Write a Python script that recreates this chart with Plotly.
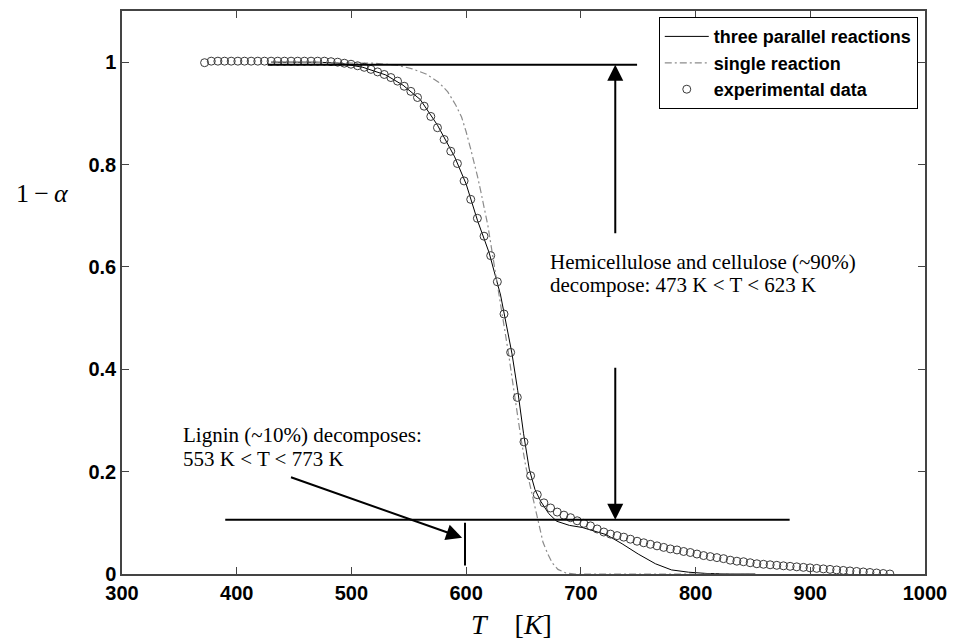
import plotly.graph_objects as go

# ---------------- data ----------------
T_exp = [372.0, 377.8, 383.6, 389.4, 395.2, 401.0, 406.8, 412.6, 418.4, 424.2,
         430.0, 435.8, 441.6, 447.4, 453.2, 459.0, 464.8, 470.6, 476.4, 482.2,
         488.0, 493.8, 499.6, 505.4, 511.2, 517.0, 522.8, 528.6, 534.4, 540.2,
         546.0, 551.8, 557.6, 563.4, 569.2, 575.0, 580.8, 586.6, 592.4, 598.2,
         604.0, 609.8, 615.6, 621.4, 627.2, 633.0, 638.8, 644.6, 650.4, 656.2,
         662.0, 667.8, 673.6, 679.4, 685.2, 691.0, 696.8, 702.6, 708.4, 714.2,
         720.0, 725.8, 731.6, 737.4, 743.2, 749.0, 754.8, 760.6, 766.4, 772.2,
         778.0, 783.8, 789.6, 795.4, 801.2, 807.0, 812.8, 818.6, 824.4, 830.2,
         836.0, 841.8, 847.6, 853.4, 859.2, 865.0, 870.8, 876.6, 882.4, 888.2,
         894.0, 899.8, 905.6, 911.4, 917.2, 923.0, 928.8, 934.6, 940.4, 946.2,
         952.0, 957.8, 963.6, 969.4]
v_exp = [0.999, 1.002, 1.002, 1.002, 1.002, 1.002, 1.002, 1.002, 1.002, 1.002,
         1.002, 1.002, 1.002, 1.002, 1.002, 1.002, 1.002, 1.002, 1.002, 1.001,
         1.000, 0.998, 0.996, 0.993, 0.990, 0.986, 0.981, 0.976, 0.970, 0.963,
         0.953, 0.943, 0.931, 0.914, 0.894, 0.872, 0.849, 0.826, 0.802, 0.768,
         0.732, 0.695, 0.660, 0.622, 0.571, 0.508, 0.433, 0.345, 0.258, 0.192,
         0.155, 0.139, 0.129, 0.121, 0.115, 0.110, 0.104, 0.099, 0.094, 0.088,
         0.082, 0.078, 0.075, 0.072, 0.068, 0.064, 0.061, 0.058, 0.055, 0.052,
         0.049, 0.047, 0.044, 0.042, 0.039, 0.036, 0.034, 0.032, 0.030, 0.027,
         0.025, 0.024, 0.022, 0.020, 0.019, 0.018, 0.017, 0.016, 0.015, 0.014,
         0.013, 0.012, 0.011, 0.010, 0.009, 0.008, 0.007, 0.006, 0.005, 0.004,
         0.003, 0.002, 0.001, 0.000]

T_three = [430, 470, 490, 510, 530, 545, 560, 575, 590, 600, 610, 620, 630, 640,
           645, 650, 655, 660, 665, 672, 679, 690, 701, 715, 722, 736, 750, 765,
           779, 794, 810, 830, 852]
v_three = [1.0, 1.0, 0.998, 0.990, 0.975, 0.955, 0.927, 0.877, 0.815, 0.762,
           0.690, 0.628, 0.545, 0.430, 0.358, 0.275, 0.205, 0.165, 0.142, 0.118,
           0.103, 0.095, 0.091, 0.082, 0.077, 0.059, 0.039, 0.020, 0.008, 0.0035,
           0.001, 0.0, 0.0]

T_single = [430, 500, 520, 540, 553, 565, 576, 584, 591, 596, 600, 604, 607, 610,
            613, 616, 619, 623, 626, 629, 633, 637, 641, 645, 648, 652, 655, 658,
            661, 664, 667, 671, 675, 680, 687, 695, 710, 852]
v_single = [1.0, 0.999, 0.998, 0.994, 0.987, 0.977, 0.961, 0.942, 0.916, 0.893,
            0.864, 0.830, 0.805, 0.776, 0.745, 0.712, 0.680, 0.624, 0.582, 0.546,
            0.490, 0.430, 0.368, 0.305, 0.262, 0.210, 0.180, 0.146, 0.117, 0.089,
            0.062, 0.040, 0.022, 0.009, 0.002, 0.0, 0.0, 0.0]

series_names = ["three parallel reactions", "single reaction", "experimental data"]
x_ticks = [300, 400, 500, 600, 700, 800, 900, 1000]
y_ticks = [0, 0.2, 0.4, 0.6, 0.8, 1]

# annotation geometry (data units)
upper_level = [427, 749, 0.995]      # x0, x1, y
lower_level = [390, 882, 0.106]
lignin_mark = [599, 0.0165, 0.100]   # x, y0, y1
arrow_x = 730

serif = "Liberation Serif, Times New Roman, serif"
sans = "Liberation Sans, Arial, sans-serif"

fig = go.Figure()
fig.add_trace(go.Scatter(x=T_three, y=v_three, mode="lines", name=series_names[0],
                         line=dict(color="black", width=1)))
fig.add_trace(go.Scatter(x=T_single, y=v_single, mode="lines", name=series_names[1],
                         line=dict(color="#8c8c8c", width=1.2, dash="7px,3px,2px,3px")))
fig.add_trace(go.Scatter(x=T_exp, y=v_exp, mode="markers", name=series_names[2],
                         marker=dict(symbol="circle-open", size=8,
                                     color="#3a3a3a", line=dict(width=1, color="#3a3a3a"))))

line_style = dict(color="black", width=2)
fig.add_shape(type="line", xref="x", yref="y", x0=upper_level[0], x1=upper_level[1],
              y0=upper_level[2], y1=upper_level[2], line=line_style)
fig.add_shape(type="line", xref="x", yref="y", x0=lower_level[0], x1=lower_level[1],
              y0=lower_level[2], y1=lower_level[2], line=line_style)
fig.add_shape(type="line", xref="x", yref="y", x0=lignin_mark[0], x1=lignin_mark[0],
              y0=lignin_mark[1], y1=lignin_mark[2], line=line_style)

arrow_common = dict(xref="x", yref="y", axref="x", ayref="y", showarrow=True,
                    arrowhead=2, arrowsize=1.6, arrowwidth=2, arrowcolor="black",
                    standoff=0, startstandoff=0, text="")
fig.add_annotation(x=arrow_x, y=upper_level[2], ax=arrow_x, ay=0.663, **arrow_common)
fig.add_annotation(x=arrow_x, y=lower_level[2], ax=arrow_x, ay=0.406, **arrow_common)
fig.add_annotation(x=596.5, y=0.071, ax=446, ay=0.19, **arrow_common)

txt_font = dict(family=serif, size=21, color="black")
for txt, yy in [("Hemicellulose and cellulose (~90%)", 0.6105),
                ("decompose: 473 K < T < 623 K", 0.5638)]:
    fig.add_annotation(x=671.3, y=yy, xref="x", yref="y", text=txt, showarrow=False,
                       xanchor="left", yanchor="middle", font=txt_font)
for txt, yy in [("Lignin (~10%) decomposes:", 0.2717),
                ("553 K < T < 773 K", 0.2249)]:
    fig.add_annotation(x=351.3, y=yy, xref="x", yref="y", text=txt, showarrow=False,
                       xanchor="left", yanchor="middle", font=txt_font)

# axis titles
fig.add_annotation(x=639.1, y=-0.0895, xref="x", yref="paper",
                   text="<i>T</i>\u00a0\u00a0\u00a0\u00a0[<i>K</i>]", showarrow=False,
                   xanchor="center", yanchor="middle",
                   font=dict(family=serif, size=28, color="black"))
fig.add_annotation(x=-0.099, y=0.676, xref="paper", yref="paper",
                   text="1\u2009\u2212\u2009<i>α</i>", showarrow=False,
                   xanchor="center", yanchor="middle",
                   font=dict(family=serif, size=26, color="black"))

axis_common = dict(showgrid=False, zeroline=False, showline=True, linecolor="#444",
                   linewidth=1.5, mirror="ticks", ticks="inside", ticklen=7,
                   tickcolor="#444", tickwidth=1,
                   tickfont=dict(family=sans, size=20, color="black", weight="bold"))
fig.update_xaxes(range=[300, 1000], tickvals=x_ticks, ticktext=[str(v) for v in x_ticks],
                 **axis_common)
fig.update_yaxes(range=[0, 1.1], tickvals=y_ticks,
                 ticktext=["0", "0.2", "0.4", "0.6", "0.8", "1"], **axis_common)

fig.update_layout(
    width=956, height=640,
    margin=dict(l=122, r=27, t=9, b=66),
    paper_bgcolor="white", plot_bgcolor="white",
    showlegend=True,
    legend=dict(x=0.991, y=0.989, xanchor="right", yanchor="top",
                bgcolor="white", bordercolor="black", borderwidth=1,
                font=dict(family=sans, size=18, color="black", weight="bold"),
                itemwidth=44, tracegroupgap=0),
)

fig.write_html("out.html")
